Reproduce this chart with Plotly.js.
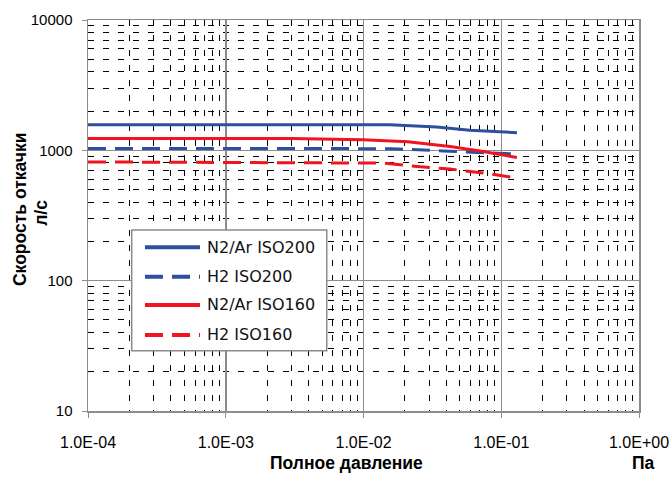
<!DOCTYPE html>
<html>
<head>
<meta charset="utf-8">
<script src="https://cdn.plot.ly/plotly-3.0.1.min.js"></script>
<style>html,body{margin:0;padding:0;background:#fff;}#chart{width:672px;height:477px;}</style>
</head>
<body>
<div id="chart"></div>
<script>
// Tick labels
const xTickVals = [0.0001, 0.001, 0.01, 0.1, 1];
const xTickText = ['1.0E-04', '1.0E-03', '1.0E-02', '1.0E-01', '1.0E+00'];
const yTickVals = [10, 100, 1000, 10000];
const yTickText = ['10', '100', '1000', '10000'];

// Series names
const seriesNames = ['N2/Ar ISO200', 'H2 ISO200', 'N2/Ar ISO160', 'H2 ISO160'];

// Series values (pressure Pa, pumping speed l/s)
const n2Iso200X = [0.0001, 0.0155, 0.034, 0.059, 0.13];
const n2Iso200Y = [1570, 1570, 1510, 1425, 1365];

const h2Iso200X = [0.0001, 0.016, 0.038, 0.13];
const h2Iso200Y = [1035, 1030, 990, 935];

const n2Iso160X = [0.0001, 0.003, 0.0099, 0.021, 0.0425, 0.074, 0.13];
const n2Iso160Y = [1230, 1230, 1205, 1165, 1070, 980, 880];

const h2Iso160X = [0.0001, 0.014, 0.0245, 0.0425, 0.074, 0.13];
const h2Iso160Y = [815, 798, 752, 718, 670, 614];

const blue = '#2E4F9E';
const red = '#F0141E';
const dashPat = '18px,9px';

const styles = [
  {color: blue, dash: 'solid'},
  {color: blue, dash: dashPat},
  {color: red, dash: 'solid'},
  {color: red, dash: dashPat}
];
const xs = [n2Iso200X, h2Iso200X, n2Iso160X, h2Iso160X];
const ys = [n2Iso200Y, h2Iso200Y, n2Iso160Y, h2Iso160Y];

const traces = xs.map((x, i) => ({
  x: x, y: ys[i], type: 'scatter', mode: 'lines', name: seriesNames[i],
  line: {color: styles[i].color, width: 3, dash: styles[i].dash},
  showlegend: false, hoverinfo: 'skip'
}));

// Manual legend (styling only)
const legBox = {x0: 0.0793, x1: 0.4333, y0: 0.1542, y1: 0.4629};
const legRows = [0.4187, 0.3435, 0.2711, 0.1944];
const shapes = [{
  type: 'rect', xref: 'paper', yref: 'paper',
  x0: legBox.x0, x1: legBox.x1, y0: legBox.y0, y1: legBox.y1,
  fillcolor: '#ffffff', line: {color: '#8a8a8a', width: 1.5}, layer: 'above'
}];
const annotations = [];
seriesNames.forEach((nm, i) => {
  shapes.push({
    type: 'line', xref: 'paper', yref: 'paper',
    x0: 0.1034, x1: 0.2033, y0: legRows[i], y1: legRows[i],
    line: {color: styles[i].color, width: 4, dash: styles[i].dash}, layer: 'above'
  });
  annotations.push({
    xref: 'paper', yref: 'paper', x: 0.2123, y: legRows[i],
    xanchor: 'left', yanchor: 'middle', showarrow: false, text: nm,
    font: {family: 'DejaVu Sans', size: 16, color: '#111'}
  });
});

const titleFont = {family: 'Liberation Sans Narrow, Liberation Sans, Arial', size: 17.5, color: '#000', weight: 'bold'};
annotations.push(
  {xref: 'paper', yref: 'paper', x: 0.470, y: -0.133, xanchor: 'center', yanchor: 'middle',
   showarrow: false, text: 'Полное давление', font: titleFont},
  {xref: 'paper', yref: 'paper', x: 1.009, y: -0.133, xanchor: 'center', yanchor: 'middle',
   showarrow: false, text: 'Па', font: titleFont},
  {xref: 'paper', yref: 'paper', x: -0.1234, y: 0.514, xanchor: 'center', yanchor: 'middle',
   showarrow: false, text: 'Скорость откачки', textangle: -90, font: titleFont},
  {xref: 'paper', yref: 'paper', x: -0.0853, y: 0.507, xanchor: 'center', yanchor: 'middle',
   showarrow: false, text: 'л/с', textangle: -90, font: titleFont}
);

const minorGrid = {
  tickmode: 'linear', dtick: 'D1', showgrid: true,
  gridcolor: '#000000', gridwidth: 1, griddash: '6px,9px', ticks: ''
};

const layout = {
  width: 672, height: 477,
  margin: {l: 88, r: 33, t: 20, b: 66},
  paper_bgcolor: '#ffffff', plot_bgcolor: '#ffffff',
  showlegend: false,
  xaxis: {
    type: 'log', range: [-4, 0],
    tickmode: 'array', tickvals: xTickVals, ticktext: xTickText,
    showgrid: true, gridcolor: '#8c8c8c', gridwidth: 1.5,
    showline: true, linecolor: '#8c8c8c', linewidth: 1.5, mirror: true,
    ticks: 'outside', ticklen: 5, tickcolor: '#8c8c8c', tickwidth: 1,
    ticklabelstandoff: 11,
    tickfont: {family: 'Liberation Sans, Arial', size: 16, color: '#000'},
    zeroline: false, minor: minorGrid
  },
  yaxis: {
    type: 'log', range: [1, 4],
    tickmode: 'array', tickvals: yTickVals, ticktext: yTickText,
    showgrid: true, gridcolor: '#8c8c8c', gridwidth: 1.5,
    showline: true, linecolor: '#8c8c8c', linewidth: 1.5, mirror: true,
    ticks: 'outside', ticklen: 5, tickcolor: '#8c8c8c', tickwidth: 1,
    ticklabelstandoff: 6,
    tickfont: {family: 'Liberation Sans, Arial', size: 15, color: '#000'},
    zeroline: false, minor: minorGrid
  },
  shapes: shapes,
  annotations: annotations
};

Plotly.newPlot('chart', traces, layout, {displayModeBar: false, staticPlot: true});
</script>
</body>
</html>
